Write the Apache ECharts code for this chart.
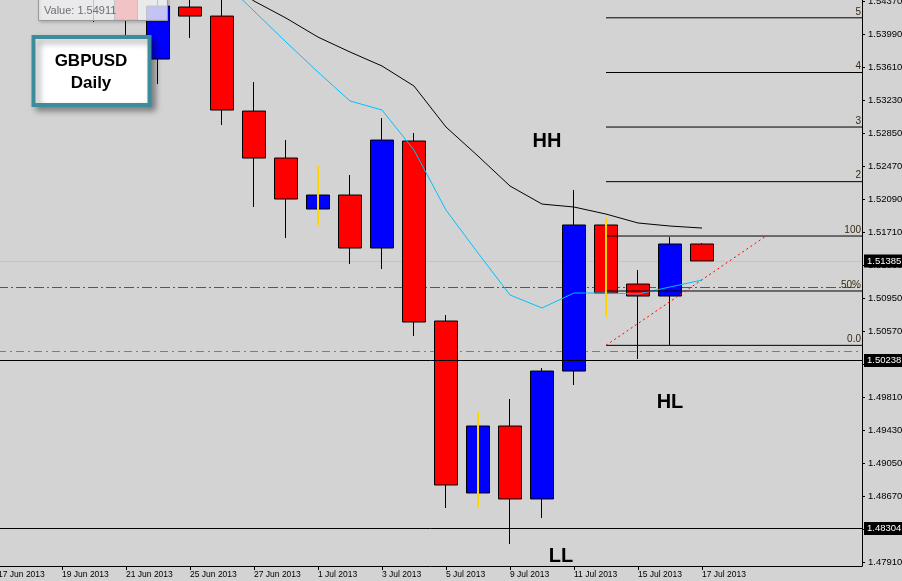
<!DOCTYPE html>
<html><head><meta charset="utf-8">
<script src="https://cdn.jsdelivr.net/npm/echarts@6/dist/echarts.min.js"></script>
<style>html,body{margin:0;padding:0;background:#d3d3d3;}#c{width:902px;height:581px;}</style>
</head><body><div id="c"></div>
<script>
// ---------- DATA ----------
const dates = ['17 Jun 2013','18 Jun 2013','19 Jun 2013','20 Jun 2013','21 Jun 2013','24 Jun 2013','25 Jun 2013','26 Jun 2013','27 Jun 2013','28 Jun 2013','1 Jul 2013','2 Jul 2013','3 Jul 2013','4 Jul 2013','5 Jul 2013','8 Jul 2013','9 Jul 2013','10 Jul 2013','11 Jul 2013','12 Jul 2013','15 Jul 2013','16 Jul 2013','17 Jul 2013'];
const futureDates = ['18 Jul 2013','19 Jul 2013','22 Jul 2013','23 Jul 2013','24 Jul 2013'];
const opens  = [1.5710,1.5660,1.5690,1.5520,1.5490,1.53710,1.54309,1.54205,1.53111,1.52570,1.51983,1.52144,1.51534,1.52766,1.50693,1.48713,1.49484,1.48644,1.50117,1.51799,1.51119,1.50981,1.51580];
const closes = [1.5660,1.5690,1.5520,1.5490,1.54159,1.54320,1.54205,1.53123,1.52570,1.52098,1.52144,1.51534,1.52777,1.50682,1.48805,1.49484,1.48644,1.50117,1.51799,1.51016,1.50981,1.51580,1.51385];
const lows   = [1.5640,1.5610,1.5490,1.54136,1.53975,1.53422,1.53952,1.52950,1.52006,1.51649,1.51799,1.51350,1.51292,1.50520,1.48540,1.48551,1.48125,1.48425,1.49956,1.50739,1.50256,1.50417,1.51385];
const highs  = [1.5750,1.5710,1.5700,1.5560,1.5500,1.5445,1.5444,1.5450,1.53445,1.52777,1.52478,1.52374,1.53031,1.52858,1.50762,1.49645,1.49795,1.50152,1.52202,1.51879,1.51280,1.51660,1.51591];
const maSlow = [null,null,null,null,null,null,null,1.54643,1.54378,1.54182,1.53963,1.53791,1.53630,1.53399,1.52927,1.52593,1.52248,1.52040,1.52006,1.51925,1.51822,1.51787,1.51764];
const maFast = [null,null,null,null,null,null,null,1.54620,1.54263,1.53906,1.53560,1.53227,1.53123,1.52662,1.51971,1.51476,1.50993,1.50843,1.51016,1.51016,1.51004,1.51085,1.51165];
const yTicks = [1.47910,1.48290,1.48670,1.49050,1.49430,1.49810,1.50190,1.50570,1.50950,1.51330,1.51710,1.52090,1.52470,1.52850,1.53230,1.53610,1.53990,1.54370];
const yMin = 1.47872, yMax = 1.54390;
const fibLabels = ['0.0','50%','100','2','3','4','5'];
const fibValues = [1.50413,1.51039,1.51672,1.52298,1.52927,1.53555,1.54185];
const fibStartIdx = 19, fibEndIdx = 27;
const trendIdx = [19,24];
const trendVals = [1.50413,1.51672];
const pinIdx = [10,15,19];
const pinTop = [1.52478,1.49645,1.51879];
const pinBottom = [1.51799,1.48551,1.50739];
const bidPrice = 1.51385;
const greenLevel = 1.51081;
const orangeLevel = 1.50344;
const blackLevels = [1.50238,1.48304];
const cursorValue = '1.54911';

// ---------- CHART ----------
const FONT = '"Liberation Sans", Arial, sans-serif';
const chart = echarts.init(document.getElementById('c'));
const cats = dates.concat(futureDates);
const N = dates.length;
const showIdx = (i) => i < N && i % 2 === 0;

const priceLabel = {
  show:true, position:'end', distance:2,
  formatter: p => Number(p.value).toFixed(5),
  color:'#ffffff', backgroundColor:'#000000', padding:[2,3,1,3],
  fontSize:9.5, fontFamily:FONT
};

const series = [];
series.push({
  type:'line', data:[], silent:true,
  markLine:{ silent:true, z:1, precision:5, symbol:['none','none'], animation:false,
    data:[
      {yAxis:greenLevel, lineStyle:{color:'#1f7f1f', type:[10,3,2,3], width:1}, label:{show:false}},
      {yAxis:orangeLevel, lineStyle:{color:'#e8562c', type:[8,4,2,4], width:1}, label:{show:false}},
      {yAxis:bidPrice, lineStyle:{color:'#c4c4c4', type:'solid', width:1}, label:priceLabel}
    ]}
});
series.push({
  type:'candlestick', z:2, barWidth:23, clip:true, silent:true,
  data: opens.map((o,i)=>[o, closes[i], lows[i], highs[i]]),
  itemStyle:{color:'#0000ff', color0:'#ff0000', borderColor:'#000000', borderColor0:'#000000', borderWidth:1}
});
series.push({type:'line', z:3, silent:true, symbol:'none', data:maSlow, lineStyle:{color:'#000000', width:1}});
series.push({type:'line', z:3, silent:true, symbol:'none', data:maFast, lineStyle:{color:'#00bfff', width:1}});
fibValues.forEach(v => {
  series.push({type:'line', z:4, silent:true, symbol:'none', data:[[fibStartIdx,v],[fibEndIdx,v]], lineStyle:{color:'#000000', width:1}});
});
series.push({type:'line', z:4, silent:true, symbol:'none', data:trendIdx.map((x,k)=>[x,trendVals[k]]), lineStyle:{color:'#ff0000', width:1, type:[2,3]}});
pinIdx.forEach((x,k) => {
  series.push({type:'line', z:5, silent:true, symbol:'none', data:[[x,pinTop[k]],[x,pinBottom[k]]], lineStyle:{color:'#ffd700', width:2}});
});
series.push({
  type:'line', data:[], silent:true,
  markLine:{ silent:true, z:6, precision:5, symbol:['none','none'], animation:false,
    lineStyle:{color:'#000000', type:'solid', width:1},
    label:priceLabel,
    data: blackLevels.map(v => ({yAxis:v}))
  }
});

chart.setOption({
  animation:false,
  backgroundColor:'#d3d3d3',
  textStyle:{fontFamily:FONT},
  grid:{left:-2, right:40, top:0, bottom:15, outerBoundsMode:'none', containLabel:false},
  xAxis:{
    type:'category', data:cats, boundaryGap:false,
    axisLine:{show:true, lineStyle:{color:'#000000', width:1}},
    axisTick:{show:true, length:4, interval:showIdx, lineStyle:{color:'#000000'}},
    axisLabel:{show:true, interval:showIdx, align:'left', margin:4, fontSize:8.5, color:'#000000', fontFamily:FONT,
      formatter:(v,i)=> i < N ? v : ''},
    splitLine:{show:false}
  },
  yAxis:{
    type:'value', position:'right', min:yMin, max:yMax, scale:true,
    axisLine:{show:true, lineStyle:{color:'#000000', width:1}},
    axisTick:{show:true, length:3, customValues:yTicks, lineStyle:{color:'#000000'}},
    axisLabel:{show:true, customValues:yTicks, margin:6, fontSize:9.5, color:'#000000', fontFamily:FONT,
      formatter:v=>Number(v).toFixed(5)},
    splitLine:{show:false}
  },
  series:series
});

// overlays
const graphics = [];
fibLabels.forEach((t,k) => {
  const p = chart.convertToPixel({xAxisIndex:0, yAxisIndex:0}, [fibEndIdx, fibValues[k]]);
  graphics.push({type:'text', z:50, silent:true, style:{text:t, x:p[0]-1, y:p[1]-1, align:'right', verticalAlign:'bottom', fill:'#3a2a12', fontSize:10, fontFamily:FONT}});
});
[['HH',547,141],['HL',670,402],['LL',561,556]].forEach(a => {
  graphics.push({type:'text', z:50, silent:true, style:{text:a[0], x:a[1], y:a[2], align:'center', verticalAlign:'middle', fill:'#000000', fontSize:20, fontWeight:'bold', fontFamily:FONT}});
});
graphics.push({type:'rect', z:60, silent:true, shape:{x:38.5, y:-6, width:129, height:26.5},
  style:{fill:'rgba(250,250,252,0.78)', stroke:'#9a9a9a', lineWidth:1, shadowBlur:3, shadowOffsetX:1, shadowOffsetY:1, shadowColor:'rgba(0,0,0,0.2)'}});
graphics.push({type:'text', z:61, silent:true, style:{text:'Value: ' + cursorValue, x:44, y:11, verticalAlign:'middle', fill:'#6e6e6e', fontSize:11, fontFamily:FONT}});
graphics.push({type:'rect', z:70, silent:true, shape:{x:33.5, y:37, width:116, height:68},
  style:{fill:'#ffffff', stroke:'#3d8c9c', lineWidth:4, shadowBlur:6, shadowOffsetX:4, shadowOffsetY:4, shadowColor:'rgba(0,0,0,0.35)'}});
graphics.push({type:'text', z:71, silent:true, style:{text:'GBPUSD', x:91, y:61, align:'center', verticalAlign:'middle', fill:'#000000', fontSize:17, fontWeight:'bold', fontFamily:FONT}});
graphics.push({type:'text', z:71, silent:true, style:{text:'Daily', x:91, y:83, align:'center', verticalAlign:'middle', fill:'#000000', fontSize:17, fontWeight:'bold', fontFamily:FONT}});
chart.setOption({graphic: graphics});
</script>
</body></html>
